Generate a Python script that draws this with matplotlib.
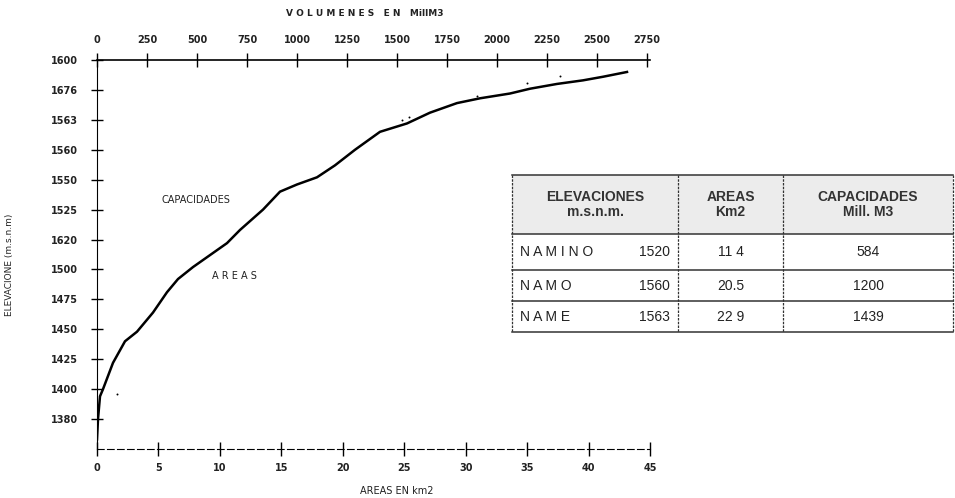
import matplotlib
matplotlib.use('Agg')
import matplotlib.pyplot as plt

# curve (volumes in Mill. M3, elevations on the printed scale)
volumes = [0, 5, 15, 30, 80, 140, 200, 280, 350, 405, 480, 565, 650, 715, 830,
           915, 1000, 1100, 1190, 1290, 1415, 1550, 1665, 1800, 1915, 2065, 2165,
           2300, 2430, 2530, 2650]
elevations = [1283, 1300, 1319, 1325, 1347, 1365, 1373, 1389, 1406, 1417, 1427,
              1437, 1447, 1458, 1475, 1490, 1496, 1502, 1512, 1525, 1540, 1547,
              1556, 1564, 1568, 1572, 1576, 1580, 1583, 1586, 1590]
# loose specks next to the curve in the scan
speck_vol = [100, 1525, 1560, 1900, 2150, 2315]
speck_elev = [1321, 1550, 1552, 1570, 1581, 1587]

# y tick labels as printed (scan is garbled)
elev_ticks = [1600, 1575, 1550, 1525, 1500, 1475, 1450, 1425, 1400, 1375, 1350, 1325, 1300]
elev_labels = ['1600', '1676', '1563', '1560', '1550', '1525', '1620', '1500',
               '1475', '1450', '1425', '1400', '1380']
area_ticks = [0, 5, 10, 15, 20, 25, 30, 35, 40, 45]
vol_ticks = [0, 250, 500, 750, 1000, 1250, 1500, 1750, 2000, 2250, 2500, 2750]

# table
tbl_header = ['ELEVACIONES\nm.s.n.m.', 'AREAS\nKm2', 'CAPACIDADES\nMill. M3']
tbl_names = ['N A M I N O', 'N A M O', 'N A M E']
tbl_elev = ['1520', '1560', '1563']
tbl_area = ['11 4', '20.5', '22 9']
tbl_cap = ['584', '1200', '1439']

W, H = 955, 498
fig = plt.figure(figsize=(W / 100, H / 100), dpi=100)
ax = fig.add_axes([97 / W, (H - 449) / H, (650 - 97) / W, (449 - 60) / H])
ax2 = ax.twiny()

ax.set_xlim(0, 45)
ax.set_ylim(1275, 1600)
ax2.set_xlim(0, 2750 * 553 / 550)

ax2.plot(volumes, elevations, color='black', lw=1.8)
ax2.scatter(speck_vol, speck_elev, s=2, color='black', lw=0)

tick_font = dict(fontsize=7, fontweight='bold', color='#222222')
ax.set_yticks(elev_ticks)
ax.set_yticklabels(elev_labels, **tick_font)
ax.set_xticks(area_ticks)
ax.set_xticklabels([str(t) for t in area_ticks], **tick_font)
ax2.set_xticks(vol_ticks)
ax2.set_xticklabels([str(t) for t in vol_ticks], **tick_font)

ax.tick_params(axis='y', direction='inout', length=9, width=1, pad=9)
ax.tick_params(axis='x', direction='inout', length=10, width=1, pad=5)
ax2.tick_params(axis='x', direction='inout', length=10, width=1, pad=6)

for a in (ax, ax2):
    a.spines['right'].set_visible(False)
    a.set_facecolor('none')
ax.spines['top'].set_visible(False)
ax2.spines['bottom'].set_visible(False)
ax2.spines['left'].set_visible(False)
ax.spines['left'].set_linestyle((0, (1, 1)))
ax.spines['bottom'].set_linestyle((0, (6, 3)))
ax2.spines['top'].set_linewidth(1.2)

fig.text(365 / W, 1 - 13 / H, 'V O L U M E N E S   E N   MillM3', ha='center',
         va='center', fontsize=6.5, fontweight='bold', color='#222222')
fig.text(397 / W, 1 - 491 / H, 'AREAS EN km2', ha='center', va='center',
         fontsize=7, color='#222222')
fig.text(10 / W, 1 - 265 / H, 'ELEVACIONE (m.s.n.m)', ha='center', va='center',
         rotation=90, fontsize=6.5, color='#222222')
fig.text(196 / W, 1 - 200 / H, 'CAPACIDADES', ha='center', va='center',
         fontsize=7, color='#222222')
fig.text(234 / W, 1 - 276 / H, 'A R E A S', ha='center', va='center',
         fontsize=7, color='#222222')

# table drawn in pixel coordinates
tax = fig.add_axes([0, 0, 1, 1])
tax.set_xlim(0, W)
tax.set_ylim(H, 0)
tax.axis('off')
cols = [512, 678, 783, 953]
rows = [175, 234, 270, 301, 332]
tax.fill_between([cols[0], cols[-1]], rows[0], rows[1], color='#ececec', lw=0)
for y in rows:
    tax.plot([cols[0], cols[-1]], [y, y], color='#333333', lw=1.1)
for x in cols:
    tax.plot([x, x], [rows[0], rows[-1]], color='#333333', lw=0.9, ls=(0, (2, 1)))
for i, txt in enumerate(tbl_header):
    tax.text((cols[i] + cols[i + 1]) / 2, (rows[0] + rows[1]) / 2, txt,
             ha='center', va='center', fontsize=10, fontweight='bold',
             family='Liberation Sans', linespacing=1.1, color='#333333')
for r in range(len(tbl_names)):
    yc = (rows[r + 1] + rows[r + 2]) / 2
    tf = dict(va='center', fontsize=10, family='Liberation Sans', color='#222222')
    tax.text(cols[0] + 8, yc, tbl_names[r], ha='left', **tf)
    tax.text(cols[1] - 8, yc, tbl_elev[r], ha='right', **tf)
    tax.text((cols[1] + cols[2]) / 2, yc, tbl_area[r], ha='center', **tf)
    tax.text((cols[2] + cols[3]) / 2, yc, tbl_cap[r], ha='center', **tf)

fig.savefig('out.png', dpi=100)
